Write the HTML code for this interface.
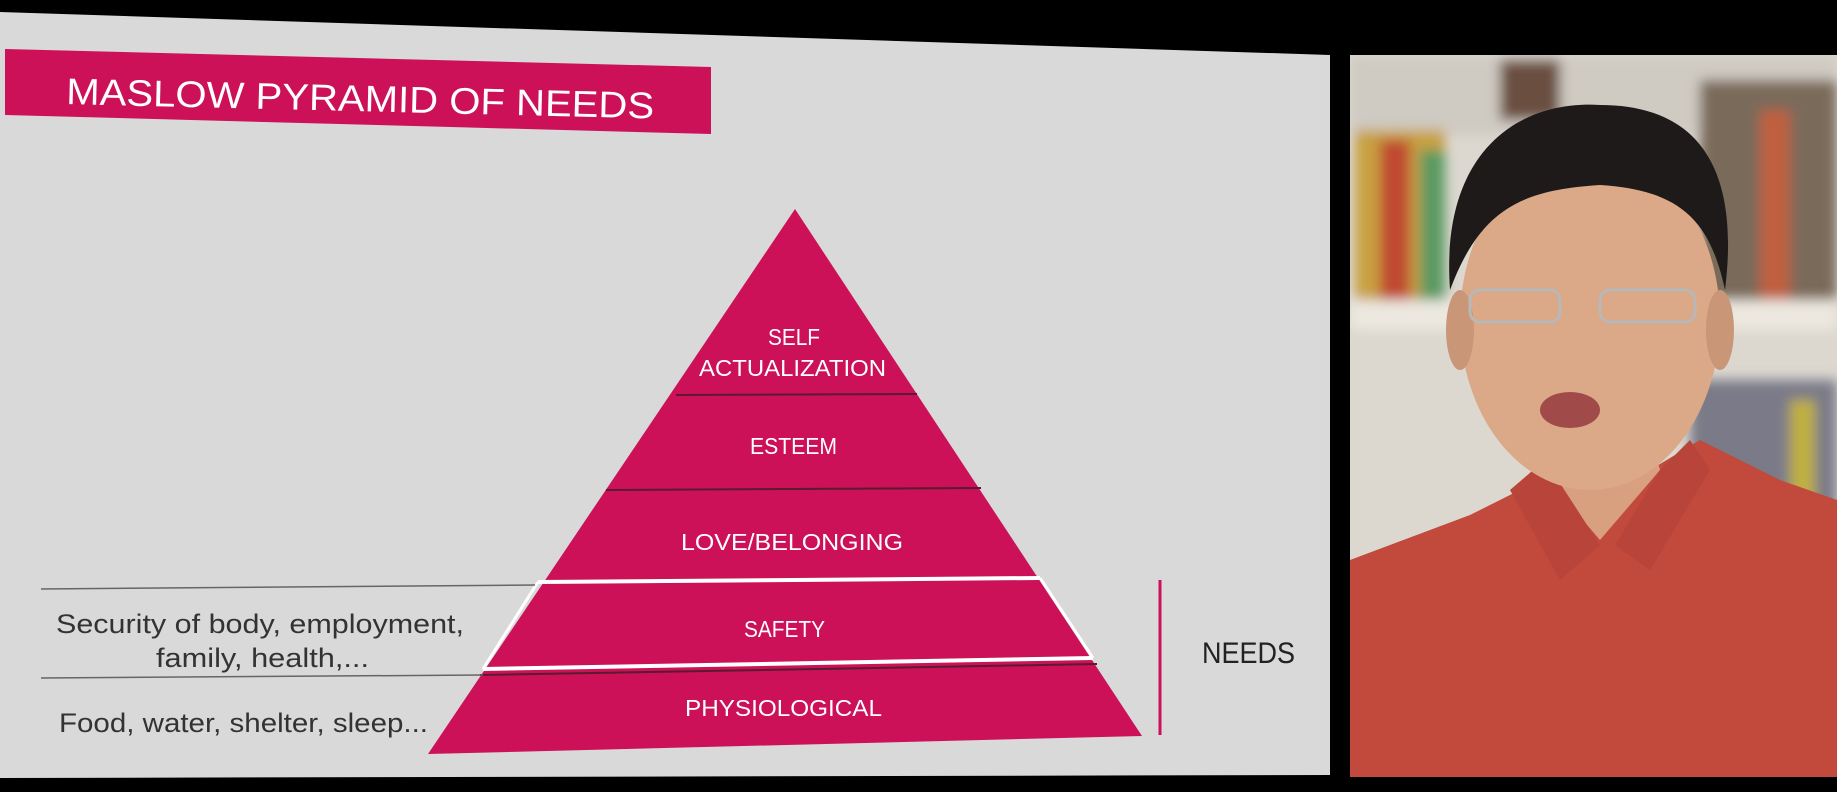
<!DOCTYPE html>
<html><head><meta charset="utf-8"><style>
html,body{margin:0;padding:0;background:#000;}
svg{display:block;}
text{font-family:"Liberation Sans",sans-serif;}
</style></head><body>
<svg width="1837" height="792" viewBox="0 0 1837 792" xmlns="http://www.w3.org/2000/svg">
<defs>
<filter id="bl"><feGaussianBlur stdDeviation="6"/></filter>
</defs>
<rect width="1837" height="792" fill="#000"/>
<polygon points="0,12 1330,55 1330,775 0,778" fill="#d9d9d9"/>
<polygon points="5,49 711,67 711,134 5,115" fill="#cc1158"/>
<text x="66" y="104" font-size="37" fill="#fff" transform="rotate(1.4 66 104)" textLength="588" lengthAdjust="spacingAndGlyphs">MASLOW PYRAMID OF NEEDS</text>
<polygon points="795,209 428,754 1142,736" fill="#cc1158"/>
<line x1="676" y1="395" x2="917" y2="394" stroke="#5a1a30" stroke-width="2"/>
<line x1="606" y1="490" x2="981" y2="488" stroke="#5a1a30" stroke-width="2"/>
<line x1="538" y1="582" x2="1040" y2="578" stroke="#fff" stroke-width="4"/>
<line x1="538" y1="582" x2="483" y2="669" stroke="#fff" stroke-width="3"/>
<line x1="1040" y1="578" x2="1093" y2="658" stroke="#fff" stroke-width="3"/>
<line x1="483" y1="669" x2="1093" y2="658" stroke="#fff" stroke-width="4"/>
<line x1="480" y1="675" x2="1097" y2="664" stroke="#5a1a30" stroke-width="2"/>
<g fill="#fff" font-size="23" lengthAdjust="spacingAndGlyphs">
<text x="768" y="345" textLength="52" lengthAdjust="spacingAndGlyphs">SELF</text>
<text x="699" y="376" textLength="187" lengthAdjust="spacingAndGlyphs">ACTUALIZATION</text>
<text x="750" y="454" textLength="87" lengthAdjust="spacingAndGlyphs">ESTEEM</text>
<text x="681" y="550" textLength="222" lengthAdjust="spacingAndGlyphs">LOVE/BELONGING</text>
<text x="744" y="637" textLength="81" lengthAdjust="spacingAndGlyphs">SAFETY</text>
<text x="685" y="716" textLength="197" lengthAdjust="spacingAndGlyphs">PHYSIOLOGICAL</text>
</g>
<line x1="41" y1="589" x2="535" y2="585" stroke="#666" stroke-width="1.5"/>
<line x1="41" y1="678" x2="483" y2="675" stroke="#666" stroke-width="1.5"/>
<g fill="#333" font-size="27">
<text x="56" y="633" textLength="408" lengthAdjust="spacingAndGlyphs">Security of body, employment,</text>
<text x="156" y="667" textLength="213" lengthAdjust="spacingAndGlyphs">family, health,...</text>
<text x="59" y="732" textLength="369" lengthAdjust="spacingAndGlyphs">Food, water, shelter, sleep...</text>
</g>
<line x1="1160" y1="580" x2="1160" y2="735" stroke="#cc1158" stroke-width="3"/>
<text x="1202" y="663" font-size="30" fill="#222" textLength="93" lengthAdjust="spacingAndGlyphs">NEEDS</text>
<g>
<clipPath id="vc"><rect x="1350" y="55" width="487" height="722"/></clipPath>
<g clip-path="url(#vc)">
<rect x="1350" y="55" width="487" height="722" fill="#dcd8d0"/>
<g filter="url(#bl)">
<rect x="1350" y="55" width="487" height="80" fill="#cfcac2"/>
<rect x="1355" y="130" width="90" height="170" fill="#c8a040"/>
<rect x="1380" y="140" width="30" height="160" fill="#c04a30"/>
<rect x="1420" y="150" width="25" height="150" fill="#5a9a60"/>
<rect x="1500" y="60" width="60" height="60" fill="#6a5040"/>
<rect x="1700" y="80" width="137" height="220" fill="#7a6a5a"/>
<rect x="1760" y="110" width="30" height="190" fill="#c06040"/>
<rect x="1350" y="300" width="487" height="30" fill="#ece8e0"/>
<rect x="1690" y="380" width="147" height="150" fill="#7a7a88"/>
<rect x="1790" y="400" width="25" height="120" fill="#c0b040"/>
</g>
<polygon points="1350,560 1470,515 1540,480 1650,470 1700,440 1780,480 1837,500 1837,777 1350,777" fill="#c14a3c"/>
<polygon points="1540,470 1600,540 1660,470 1650,430 1550,430" fill="#d9a080"/>
<polygon points="1510,490 1545,460 1600,545 1560,580" fill="#b8443a"/>
<polygon points="1690,440 1660,470 1615,545 1650,570 1710,470" fill="#b8443a"/>
<ellipse cx="1590" cy="320" rx="130" ry="170" fill="#dba888"/>
<ellipse cx="1460" cy="330" rx="14" ry="40" fill="#c99678"/>
<ellipse cx="1720" cy="330" rx="14" ry="40" fill="#c99678"/>
<path d="M1450,290 C1440,150 1520,100 1600,105 C1700,105 1740,170 1725,290 C1710,220 1680,190 1600,185 C1520,190 1480,210 1450,290 Z" fill="#1e1a1a"/>
<g fill="none" stroke="#b8b8b8" stroke-width="3">
<rect x="1470" y="290" width="90" height="32" rx="10"/>
<rect x="1600" y="290" width="95" height="32" rx="10"/>
</g>
<ellipse cx="1570" cy="410" rx="30" ry="18" fill="#a04a4a"/>
</g>
</g>
</svg>
</body></html>
